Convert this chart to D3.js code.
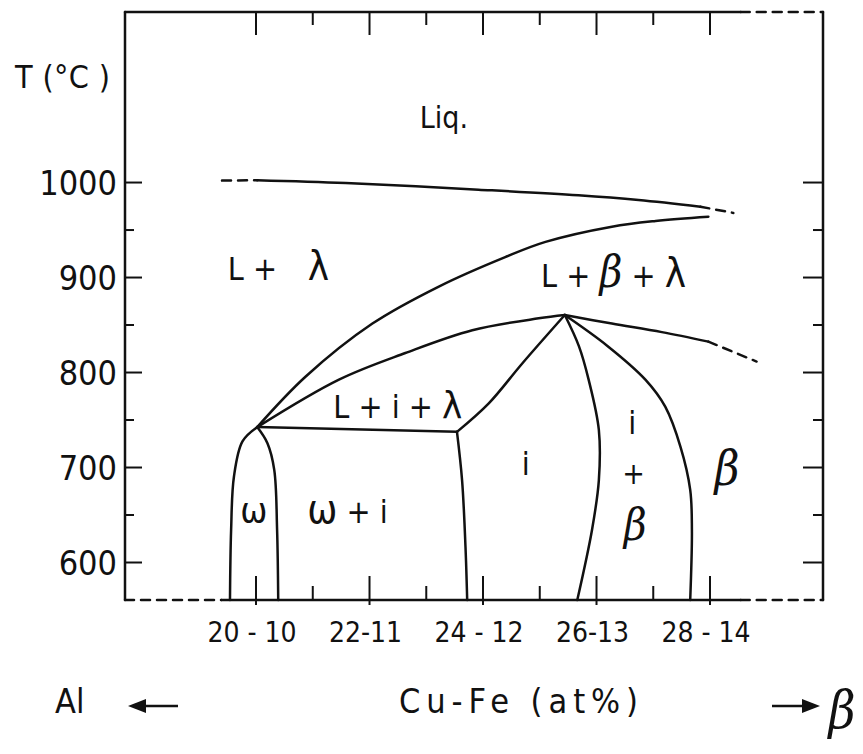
<!DOCTYPE html>
<html>
<head>
<meta charset="utf-8">
<script src="https://cdn.jsdelivr.net/npm/d3@7"></script>
<style>
  body { margin: 0; background: #fff; }
  svg text {
    font-family: "DejaVu Sans Condensed", "DejaVu Sans", sans-serif;
    font-stretch: condensed;
    fill: #111;
  }
  .greek { font-family: "DejaVu Serif", serif; font-style: italic; }
  .curve { fill: none; stroke: #111; stroke-width: 2.5; stroke-linecap: round; }
  .dash { stroke-dasharray: 9, 7; }
</style>
</head>
<body>
<div id="chart"></div>
<script>
const WIDTH = 863
const HEIGHT = 754

// axis ticks
const CU_MAJOR = [20, 22, 24, 26, 28]
const CU_MINOR = [21, 23, 25, 27]
const CU_LABELS = ['20 - 10', '22-11', '24 - 12', '26-13', '28 - 14']
const T_MAJOR = [600, 700, 800, 900, 1000]
const T_MINOR = [650, 750, 850, 950]

// phase boundaries, [Cu at%, T °C]
const liquidusStart = [[19.41, 1001.5], [20.03, 1002]]
const liquidus = [[20.03, 1002], [21.59, 999], [23.93, 992], [25.69, 986], [26.75, 981], [27.84, 974]]
const liquidusEnd = [[27.84, 974], [28.42, 967.5]]
const lambdaLiquidus = [[20.03, 742], [20.88, 795], [22.06, 851], [23.23, 890], [24.4, 921], [25.11, 937], [26.28, 953], [27.05, 959], [27.98, 963.5]]
const betaLiquidus = [[20.03, 742], [21.47, 792], [22.64, 820], [23.82, 844], [24.99, 856.5], [25.45, 860]]
const peakRight = [[25.45, 860], [26.28, 851], [27.16, 842], [27.98, 832]]
const peakRightEnd = [[27.98, 832], [28.83, 811]]
const peakToCorner = [[25.45, 860], [24.7, 809], [24.11, 767], [23.55, 737]]
const peritectic = [[20.03, 742], [23.55, 737]]
const omegaLeft = [[20.03, 742], [19.77, 727], [19.62, 690], [19.57, 634], [19.55, 560]]
const omegaRight = [[20.03, 742], [20.21, 725], [20.33, 697], [20.38, 634], [20.4, 560]]
const iLeft = [[23.55, 737], [23.64, 686], [23.7, 616], [23.73, 560]]
const iRight = [[25.45, 860], [25.7, 827], [25.87, 792], [26.05, 739], [26.05, 686], [25.93, 634], [25.67, 560]]
const betaSolvus = [[25.45, 860], [26.19, 828], [26.87, 792], [27.22, 763.5], [27.49, 721], [27.66, 676], [27.69, 634], [27.66, 560]]

const x = d3.scaleLinear().domain([17.7, 30]).range([125, 823])
const y = d3.scaleLinear().domain([560, 1179]).range([600, 12])

const svg = d3.select('#chart')
  .append('svg')
  .attr('width', WIDTH)
  .attr('height', HEIGHT)

svg.append('rect').attr('width', WIDTH).attr('height', HEIGHT).attr('fill', '#fff')

// frame
const frame = svg.append('g').attr('class', 'frame')
const hline = (x1, x2, yy, dashed) =>
  frame.append('line')
    .attr('class', dashed ? 'curve dash' : 'curve')
    .attr('x1', x(x1)).attr('x2', x(x2))
    .attr('y1', yy).attr('y2', yy)
    .attr('stroke-width', 2.2)

hline(17.7, 28.55, y(1179), false)
hline(28.55, 30, y(1179), true)
hline(17.7, 19.4, y(560), true)
hline(19.4, 28.55, y(560), false)
hline(28.55, 30, y(560), true)

frame.append('line').attr('class', 'curve').attr('stroke-width', 2.2)
  .attr('x1', x(17.7)).attr('x2', x(17.7)).attr('y1', y(1179)).attr('y2', y(560))
frame.append('line').attr('class', 'curve').attr('stroke-width', 2.2)
  .attr('x1', x(30)).attr('x2', x(30)).attr('y1', y(1179)).attr('y2', y(560))

const tidy = g => {
  g.select('.domain').remove()
  g.selectAll('line').attr('stroke', '#111').attr('stroke-width', 2)
}

// left axis
svg.append('g')
  .attr('transform', `translate(${x(17.7)},0)`)
  .call(d3.axisLeft(y).tickValues(T_MAJOR).tickSize(-17).tickPadding(8).tickFormat(d3.format('d')))
  .call(tidy)
  .call(g => g.selectAll('text')
    .attr('font-size', 34)
    .attr('dy', '0.36em')
    .style('font-family', null))
svg.append('g')
  .attr('transform', `translate(${x(17.7)},0)`)
  .call(d3.axisLeft(y).tickValues(T_MINOR).tickSize(-9).tickFormat(''))
  .call(tidy)

// right axis
svg.append('g')
  .attr('transform', `translate(${x(30)},0)`)
  .call(d3.axisRight(y).tickValues(T_MAJOR).tickSize(-20).tickFormat(''))
  .call(tidy)
svg.append('g')
  .attr('transform', `translate(${x(30)},0)`)
  .call(d3.axisRight(y).tickValues(T_MINOR).tickSize(-10).tickFormat(''))
  .call(tidy)

// top axis
svg.append('g')
  .attr('transform', `translate(0,${y(1179)})`)
  .call(d3.axisTop(x).tickValues(CU_MAJOR).tickSize(-23).tickFormat(''))
  .call(tidy)
svg.append('g')
  .attr('transform', `translate(0,${y(1179)})`)
  .call(d3.axisTop(x).tickValues(CU_MINOR).tickSize(-13).tickFormat(''))
  .call(tidy)

// bottom axis
svg.append('g')
  .attr('transform', `translate(0,${y(560)})`)
  .call(d3.axisBottom(x).tickValues(CU_MAJOR).tickSize(-24).tickPadding(22)
    .tickFormat((d, i) => CU_LABELS[i]))
  .call(tidy)
  .call(g => g.selectAll('text')
    .attr('font-size', 28)
    .attr('dx', -4)
    .style('font-family', null))
svg.append('g')
  .attr('transform', `translate(0,${y(560)})`)
  .call(d3.axisBottom(x).tickValues(CU_MAJOR).tickSize(5).tickFormat(''))
  .call(tidy)
svg.append('g')
  .attr('transform', `translate(0,${y(560)})`)
  .call(d3.axisBottom(x).tickValues(CU_MINOR).tickSize(-14).tickFormat(''))
  .call(tidy)

// boundaries
const line = d3.line()
  .x(d => x(d[0]))
  .y(d => y(d[1]))
  .curve(d3.curveCatmullRom.alpha(0.5))

const solid = [liquidus, lambdaLiquidus, betaLiquidus, peakRight, peakToCorner, peritectic,
  omegaLeft, omegaRight, iLeft, iRight, betaSolvus]
const dashed = [liquidusStart, liquidusEnd, peakRightEnd]

svg.append('g')
  .selectAll('path')
  .data(solid)
  .join('path')
  .attr('class', 'curve')
  .attr('d', line)

svg.append('g')
  .selectAll('path')
  .data(dashed)
  .join('path')
  .attr('class', 'curve dash')
  .attr('d', line)

// region labels
const label = (cu, t, size, anchor) =>
  svg.append('text')
    .attr('x', x(cu))
    .attr('y', y(t))
    .attr('font-size', size)
    .attr('text-anchor', anchor || 'start')

label(23.32, 1057, 30, 'middle').text('Liq.')

let t = label(19.51, 897, 32)
t.append('tspan').text('L +')
t.append('tspan').attr('x', x(20.92)).text('λ').attr('font-size', 40)

t = label(25.03, 889.5, 32)
t.append('tspan').text('L + ')
t.append('tspan').attr('class', 'greek').attr('font-size', 44).text('β')
t.append('tspan').text(' + ')
t.append('tspan').text('λ').attr('font-size', 40)

t = label(21.37, 751.6, 32)
t.append('tspan').text('L + i + ')
t.append('tspan').text('λ').attr('font-size', 38)

label(19.97, 641, 36, 'middle').text('ω')

t = label(20.91, 641, 32)
t.append('tspan').text('ω').attr('font-size', 40)
t.append('tspan').text('  +  i')

label(24.76, 691.6, 32, 'middle').text('i')
label(26.64, 735, 32, 'middle').text('i')
label(26.66, 682, 30, 'middle').text('+')
label(26.69, 623, 44, 'middle').attr('class', 'greek').text('β')
label(28.31, 681, 48, 'middle').attr('class', 'greek').text('β')

// axis titles
svg.append('text').attr('x', 15).attr('y', 88).attr('font-size', 32)
  .attr('textLength', 95).attr('lengthAdjust', 'spacing').text('T (°C )')

svg.append('text').attr('x', 55).attr('y', 713).attr('font-size', 34).text('Al')
svg.append('text').attr('x', 399).attr('y', 713).attr('font-size', 34)
  .attr('textLength', 239).attr('lengthAdjust', 'spacing').text('Cu-Fe (at%)')
svg.append('text').attr('x', 842).attr('y', 728).attr('font-size', 52)
  .attr('text-anchor', 'middle').attr('class', 'greek').text('β')

// composition arrows
const arrow = (x1, x2, yy) => {
  const dir = Math.sign(x2 - x1)
  svg.append('line')
    .attr('x1', x1).attr('x2', x2 - dir * 14)
    .attr('y1', yy).attr('y2', yy)
    .attr('stroke', '#111').attr('stroke-width', 2.5)
  svg.append('path')
    .attr('d', `M${x2},${yy} L${x2 - dir * 18},${yy - 7} L${x2 - dir * 18},${yy + 7} Z`)
    .attr('fill', '#111')
}
arrow(178, 128, 706)
arrow(772, 820, 706)
</script>
</body>
</html>
